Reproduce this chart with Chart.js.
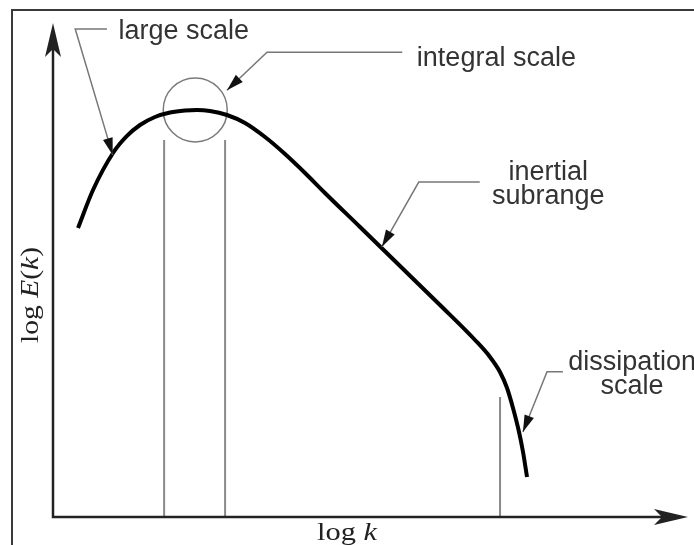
<!DOCTYPE html>
<html>
<head>
<meta charset="utf-8">
<script src="https://cdn.jsdelivr.net/npm/chart.js@4/dist/chart.umd.min.js"></script>
<style>
  html, body { margin: 0; padding: 0; background: #fff; }
  canvas { display: block; }
</style>
</head>
<body>
<canvas id="spectrum" width="694" height="545"></canvas>
<script>
// Energy spectrum E(k), both axes in log units (arbitrary scale 0..10)
const logK = [0.394, 0.630, 0.945, 1.165, 1.370, 1.606, 1.843, 2.079, 2.268,
              2.472, 2.740, 3.024, 3.339, 3.654, 3.969, 4.283, 4.835, 5.465,
              6.094, 6.646, 6.882, 7.039, 7.150, 7.244, 7.339, 7.402, 7.465];
const logE = [5.850, 6.619, 7.368, 7.713, 7.935, 8.097, 8.188, 8.229, 8.239,
              8.219, 8.138, 7.976, 7.692, 7.348, 6.964, 6.559, 5.870, 5.081,
              4.291, 3.583, 3.239, 2.935, 2.611, 2.206, 1.721, 1.316, 0.810];

// Range markers: integral-scale band around the peak and the dissipation cut-off
const integralBandK = [1.75, 2.71];
const integralBandTopE = 7.63;
const dissipationK = 7.04;
const dissipationTopE = 2.43;
const peakPoint = [2.24, 8.24];

// Axis titles
const xTitle = ["log ", "k"];
const yTitle = ["log ", "E", "(", "k", ")"];

// Callout texts
const calloutLarge = ["large scale"];
const calloutIntegral = ["integral scale"];
const calloutInertial = ["inertial", "subrange"];
const calloutDissipation = ["dissipation", "scale"];

// Callout placement (leader: text end -> elbow -> arrow tip), in axis units
const callouts = [
  { lines: calloutLarge, align: "left", at: [1.03, 9.68],
    leader: [[0.85, 9.88], [0.35, 9.88], [0.94, 7.33]] },
  { lines: calloutIntegral, align: "left", at: [5.73, 9.13],
    leader: [[5.50, 9.41], [3.37, 9.41], [2.74, 8.64]] },
  { lines: calloutInertial, align: "center", at: [7.80, 6.82],
    leader: [[6.72, 6.78], [5.76, 6.78], [5.18, 5.47]] },
  { lines: calloutDissipation, align: "center", at: [9.12, 2.98],
    leader: [[8.03, 2.94], [7.78, 2.94], [7.40, 1.72]] }
];

function head(ctx, x0, y0, x1, y1, len, half, notch) {
  const a = Math.atan2(y1 - y0, x1 - x0);
  ctx.save();
  ctx.translate(x1, y1);
  ctx.rotate(a);
  ctx.beginPath();
  ctx.moveTo(0, 0);
  ctx.lineTo(-len, half);
  ctx.lineTo(-len + notch, 0);
  ctx.lineTo(-len, -half);
  ctx.closePath();
  ctx.fill();
  ctx.restore();
}

// Draws a run of text pieces (upright / italic) stretched to a given length
function drawPieces(ctx, pieces, italicIdx, size, targetLen) {
  const fonts = pieces.map((p, i) =>
    (italicIdx.includes(i) ? "italic " : "") + size + "px 'Liberation Serif', 'DejaVu Serif', serif");
  let total = 0;
  const widths = pieces.map((p, i) => { ctx.font = fonts[i]; const w = ctx.measureText(p).width; total += w; return w; });
  const s = targetLen / total;
  ctx.scale(s, 1);
  let x = -total / 2;
  ctx.textAlign = "left";
  ctx.textBaseline = "alphabetic";
  pieces.forEach((p, i) => { ctx.font = fonts[i]; ctx.fillText(p, x, 0); x += widths[i]; });
}

const sketchPlugin = {
  id: "sketch",
  beforeDatasetsDraw(chart) {
    const ctx = chart.ctx;
    const xs = chart.scales.x, ys = chart.scales.y;
    const area = chart.chartArea;
    ctx.save();
    // outer frame (left and top edges)
    ctx.strokeStyle = "#3a3a3a";
    ctx.lineWidth = 2;
    ctx.beginPath();
    ctx.moveTo(12, chart.height);
    ctx.lineTo(12, 10);
    ctx.lineTo(chart.width, 10);
    ctx.stroke();

    // vertical range markers
    ctx.strokeStyle = "#8a8a8a";
    ctx.lineWidth = 2;
    ctx.beginPath();
    integralBandK.forEach(k => {
      const x = xs.getPixelForValue(k);
      ctx.moveTo(x, ys.getPixelForValue(integralBandTopE));
      ctx.lineTo(x, area.bottom);
    });
    const xd = xs.getPixelForValue(dissipationK);
    ctx.moveTo(xd, ys.getPixelForValue(dissipationTopE));
    ctx.lineTo(xd, area.bottom);
    ctx.stroke();

    // circle around the spectral peak
    ctx.strokeStyle = "#7a7a7a";
    ctx.lineWidth = 1.5;
    ctx.beginPath();
    ctx.arc(xs.getPixelForValue(peakPoint[0]), ys.getPixelForValue(peakPoint[1]), 32, 0, Math.PI * 2);
    ctx.stroke();
    ctx.restore();
  },
  afterDatasetsDraw(chart) {
    const ctx = chart.ctx;
    const xs = chart.scales.x, ys = chart.scales.y;
    const area = chart.chartArea;
    ctx.save();

    // axes with arrowheads
    ctx.strokeStyle = "#222";
    ctx.fillStyle = "#222";
    ctx.lineWidth = 2.5;
    ctx.beginPath();
    ctx.moveTo(area.left, area.top + 20);
    ctx.lineTo(area.left, area.bottom);
    ctx.lineTo(area.right - 20, area.bottom);
    ctx.stroke();
    head(ctx, area.left, area.bottom, area.left, area.top, 34, 8, 8);
    head(ctx, area.left, area.bottom, area.right, area.bottom, 34, 8, 8);

    // callouts
    callouts.forEach(c => {
      const pts = c.leader.map(p => [xs.getPixelForValue(p[0]), ys.getPixelForValue(p[1])]);
      ctx.strokeStyle = "#777";
      ctx.lineWidth = 1.5;
      ctx.beginPath();
      ctx.moveTo(pts[0][0], pts[0][1]);
      ctx.lineTo(pts[1][0], pts[1][1]);
      ctx.lineTo(pts[2][0], pts[2][1]);
      ctx.stroke();
      ctx.fillStyle = "#111";
      head(ctx, pts[1][0], pts[1][1], pts[2][0], pts[2][1], 17, 5, 0);

      ctx.fillStyle = "#333";
      ctx.font = "27px 'Liberation Sans', Arial, sans-serif";
      ctx.textAlign = c.align;
      ctx.textBaseline = "alphabetic";
      const x = xs.getPixelForValue(c.at[0]);
      const y = ys.getPixelForValue(c.at[1]);
      c.lines.forEach((t, i) => ctx.fillText(t, x, y + i * 24));
    });

    // axis titles
    ctx.fillStyle = "#222";
    ctx.save();
    ctx.translate(347, 540);
    drawPieces(ctx, xTitle, [1], 26, 60);
    ctx.restore();

    ctx.save();
    ctx.translate(38, 295);
    ctx.rotate(-Math.PI / 2);
    drawPieces(ctx, yTitle, [1, 3], 26, 96);
    ctx.restore();

    ctx.restore();
  }
};

new Chart(document.getElementById("spectrum"), {
  type: "scatter",
  data: {
    datasets: [{
      data: logK.map((k, i) => ({ x: k, y: logE[i] })),
      showLine: true,
      borderColor: "#000",
      borderWidth: 4,
      pointRadius: 0,
      cubicInterpolationMode: "monotone",
      fill: false
    }]
  },
  options: {
    responsive: false,
    animation: false,
    layout: { padding: { left: 53, right: 6, top: 23, bottom: 28 } },
    plugins: { legend: { display: false }, tooltip: { enabled: false } },
    scales: {
      x: { type: "linear", min: 0, max: 10, display: false },
      y: { type: "linear", min: 0, max: 10, display: false }
    }
  },
  plugins: [sketchPlugin]
});
</script>
</body>
</html>
